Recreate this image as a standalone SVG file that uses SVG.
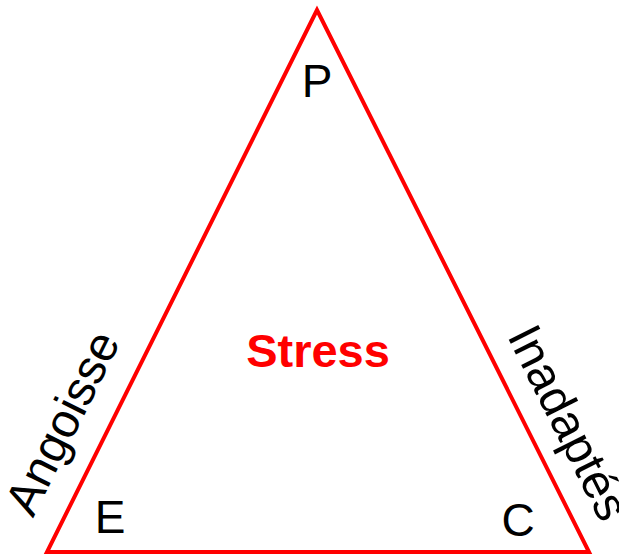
<svg xmlns="http://www.w3.org/2000/svg" width="619" height="556" viewBox="0 0 619 556">
<style>
.lbl{font-family:"Liberation Sans",Arial,sans-serif;font-size:46px;fill:#000;text-anchor:middle}
.side{font-size:48px}
.edge{fill:none;stroke:#ff0000;stroke-width:4;stroke-linejoin:miter}
.title{font-family:"Liberation Sans",Arial,sans-serif;font-size:47px;font-weight:bold;fill:#ff0000;text-anchor:middle}
</style>
<rect width="619" height="556" fill="#fff"/>
<g id="connectors">
<polygon class="edge" points="317,10 47,552 589,552"/>
</g>
<g id="node-P"><text class="lbl" x="317" y="97">P</text></g>
<g id="node-E"><text class="lbl" x="110" y="533">E</text></g>
<g id="node-C"><text class="lbl" x="518" y="536">C</text></g>
<g id="node-stress"><text class="title" x="318" y="367">Stress</text></g>
<g id="label-angoisse"><text class="lbl side" transform="translate(77,430) rotate(-63.6)">Angoisse</text></g>
<g id="label-inadaptes"><text class="lbl side" transform="translate(554,430) rotate(63.3)">Inadaptés</text></g>
</svg>
